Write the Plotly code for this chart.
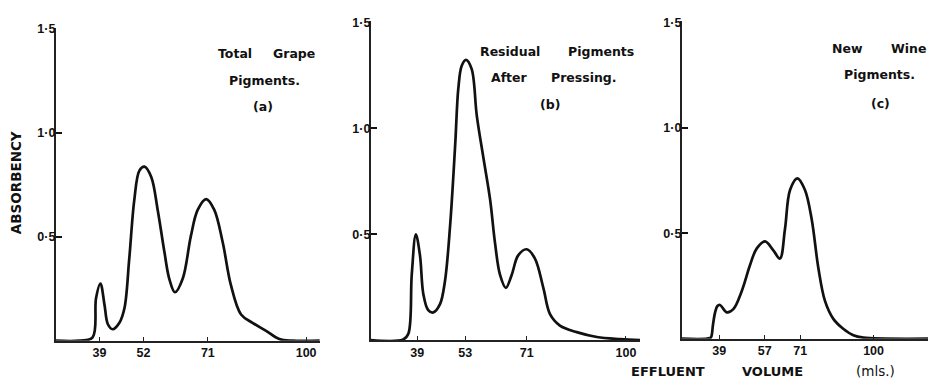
import plotly.graph_objects as go

# ---------------- data ----------------
a_volume = [26.1, 33.1, 37.0, 38.0, 39.3, 40.5, 41.5, 42.9, 44.9, 46.4, 47.8, 49.3,
            50.8, 52.3, 54.3, 56.2, 58.2, 59.6, 61.3, 63.6, 66.0, 68.0, 70.5, 72.9,
            75.4, 77.8, 80.8, 84.2, 88.2, 92.1, 96.0, 104.0]
a_absorbency = [0, 0, 0.016, 0.204, 0.275, 0.173, 0.079, 0.055, 0.086, 0.157, 0.393, 0.677,
                0.818, 0.837, 0.787, 0.629, 0.425, 0.299, 0.233, 0.299, 0.504, 0.629, 0.681, 0.629,
                0.472, 0.268, 0.126, 0.086, 0.047, 0.008, 0, 0]

b_volume = [25.4, 34.9, 36.4, 37.4, 38.6, 39.8, 40.8, 42.2, 43.7, 45.65, 47.1, 48.6,
            50.1, 51.0, 52.0, 53.25, 54.9, 56.4, 58.3, 60.3, 61.7, 63.2, 64.9, 66.6,
            68.5, 71.0, 73.4, 75.85, 77.8, 80.7, 85.6, 91.5, 98.3, 104.1]
b_absorbency = [0, 0.003, 0.03, 0.31, 0.50, 0.40, 0.216, 0.142, 0.131, 0.17, 0.278, 0.54,
                0.925, 1.187, 1.295, 1.323, 1.28, 1.06, 0.864, 0.663, 0.4625, 0.308, 0.247, 0.308,
                0.40, 0.429, 0.385, 0.247, 0.123, 0.069, 0.038, 0.015, 0.005, 0]

c_volume = [24.2, 35.4, 35.9, 36.6, 37.4, 38.3, 39.35, 42.0, 44.6, 47.9, 51.2, 53.8,
            57.1, 60.4, 63.0, 65.0, 67.0, 69.9, 72.9, 75.55, 78.2, 80.8, 84.1, 88.0,
            92.0, 96.0, 121.5]
c_absorbency = [0, 0.003, 0.01, 0.07, 0.125, 0.155, 0.16, 0.125, 0.14, 0.225, 0.349, 0.427,
                0.461, 0.419, 0.38, 0.52, 0.705, 0.76, 0.705, 0.566, 0.334, 0.179, 0.094, 0.047,
                0.016, 0.005, 0]

a_ticks = [39, 52, 71, 100]
b_ticks = [39, 53, 71, 100]
c_ticks = [39, 57, 71, 100]
y_ticks = [0.5, 1.0, 1.5]
y_ticktext = ["0·5", "1·0", "1·5"]

a_title = ["Total", "Grape", "Pigments.", "(a)"]
b_title = ["Residual", "Pigments", "After", "Pressing.", "(b)"]
c_title = ["New", "Wine", "Pigments.", "(c)"]
x_title = ["EFFLUENT", "VOLUME", "(mls.)"]
y_title = "ABSORBENCY"

# ---------------- layout helpers ----------------
W, H = 928, 384


def fx(p):
    return p / W


def fy(p):
    return 1 - p / H


INK = "#111111"
TICKFONT = dict(family="Liberation Sans, Arial, sans-serif", size=12.5, color=INK, weight="bold")
TEXTFONT = dict(family="DejaVu Sans, sans-serif", size=12.5, color=INK, weight="bold")

panels = [
    dict(x=a_volume, y=a_absorbency, ticks=a_ticks, xr=[26.1, 104.1],
         xd=[55.7, 320], yd=[340, 22.3]),
    dict(x=b_volume, y=b_absorbency, ticks=b_ticks, xr=[25.4, 104.1],
         xd=[370.7, 640], yd=[339.5, 15.7]),
    dict(x=c_volume, y=c_absorbency, ticks=c_ticks, xr=[24.2, 121.5],
         xd=[681.7, 928], yd=[338, 15.6]),
]

fig = go.Figure()
layout = dict(
    width=W, height=H, margin=dict(l=0, r=0, t=0, b=0),
    paper_bgcolor="white", plot_bgcolor="white", showlegend=False,
)

for i, p in enumerate(panels, start=1):
    xa = "x" if i == 1 else f"x{i}"
    ya = "y" if i == 1 else f"y{i}"
    fig.add_trace(go.Scatter(
        x=p["x"], y=p["y"], mode="lines", xaxis=xa, yaxis=ya,
        line=dict(color=INK, width=2.7, shape="spline", smoothing=1.0),
        hoverinfo="skip",
    ))
    xkey = "xaxis" if i == 1 else f"xaxis{i}"
    ykey = "yaxis" if i == 1 else f"yaxis{i}"
    layout[xkey] = dict(
        domain=[fx(p["xd"][0]), fx(p["xd"][1])], range=p["xr"], anchor=ya,
        showline=True, linecolor="#222", linewidth=1.5, ticks="inside", ticklen=4,
        tickwidth=1.3, tickcolor="#222", tickvals=p["ticks"],
        ticktext=[str(t) for t in p["ticks"]], tickfont=TICKFONT,
        showgrid=False, zeroline=False, fixedrange=True,
    )
    layout[ykey] = dict(
        domain=[fy(p["yd"][0]), fy(p["yd"][1])], range=[0, 1.504], anchor=xa,
        showline=True, linecolor="#222", linewidth=1.6, ticks="inside", ticklen=6,
        tickwidth=2, tickcolor="#111", tickvals=y_ticks, ticktext=y_ticktext,
        tickfont=TICKFONT, ticklabelstandoff=-4,
        showgrid=False, zeroline=False, fixedrange=True,
    )

annotations = []


def label(text, cx, cy, font=TEXTFONT, angle=0):
    annotations.append(dict(
        text=text, x=fx(cx), y=fy(cy), xref="paper", yref="paper",
        xanchor="center", yanchor="middle", showarrow=False, font=font, textangle=angle,
    ))


# panel (a) titles
label(a_title[0], 235, 48)
label(a_title[1], 293.5, 48)
label(a_title[2], 264.5, 75.5)
label(a_title[3], 263, 102)
# panel (b) titles
label(b_title[0], 510.5, 46.7)
label(b_title[1], 601, 46.7)
label(b_title[2], 509, 72.3)
label(b_title[3], 584, 72.3)
label(b_title[4], 550, 100)
# panel (c) titles
label(c_title[0], 847.5, 43.3)
label(c_title[1], 908.5, 43.3)
label(c_title[2], 879.5, 70)
label(c_title[3], 880, 99)

XFONT = dict(family="DejaVu Sans, sans-serif", size=13, color=INK, weight="bold")
label(x_title[0], 668, 371, XFONT)
label(x_title[1], 772, 371, XFONT)
label(x_title[2], 875, 371, dict(family="DejaVu Sans, sans-serif", size=13.5, color=INK))

label(y_title, 16, 180,
      dict(family="DejaVu Sans, sans-serif", size=13.5, color=INK, weight="bold"), angle=-90)

layout["annotations"] = annotations
fig.update_layout(**layout)
fig.write_html("out.html")
